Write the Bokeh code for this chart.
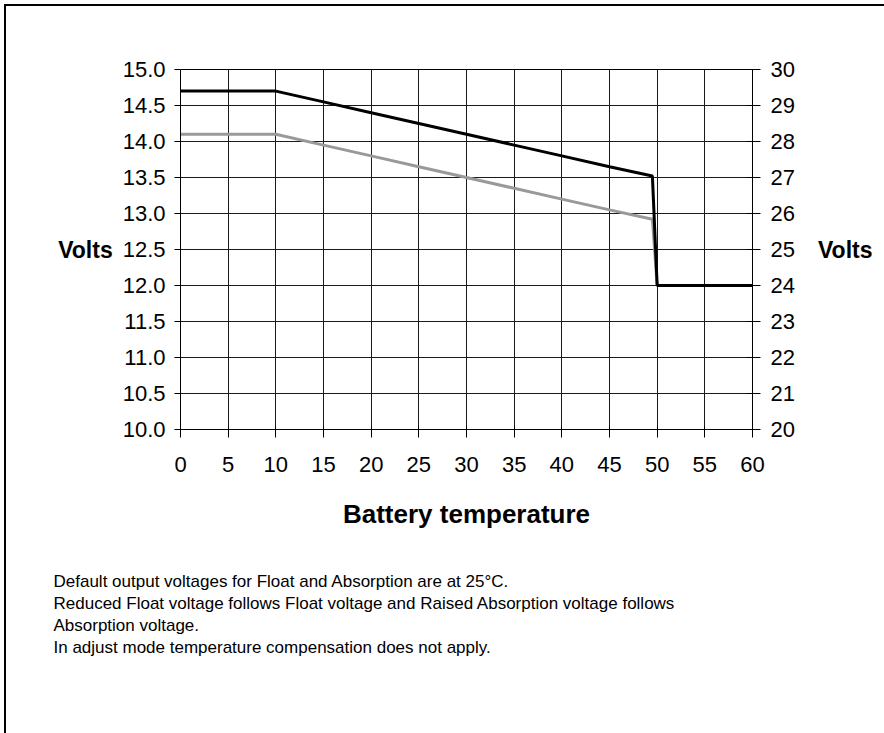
from bokeh.plotting import figure
from bokeh.models import (Range1d, LinearAxis, FixedTicker, PrintfTickFormatter,
                          Title)
from bokeh.embed import file_html
from bokeh.resources import INLINE

# ---- data ----
temp_absorption = [0, 10, 15, 20, 25, 30, 35, 40, 45, 49.5, 50, 60]
volts_absorption = [14.7, 14.7, 14.55, 14.4, 14.25, 14.1, 13.95, 13.8, 13.65, 13.52, 12.0, 12.0]
temp_float = [0, 10, 15, 20, 25, 30, 35, 40, 45, 49.5, 50, 60]
volts_float = [14.1, 14.1, 13.95, 13.8, 13.65, 13.5, 13.35, 13.2, 13.05, 12.92, 12.0, 12.0]

x_ticks = [0, 5, 10, 15, 20, 25, 30, 35, 40, 45, 50, 55, 60]
left_ticks = [10.0, 10.5, 11.0, 11.5, 12.0, 12.5, 13.0, 13.5, 14.0, 14.5, 15.0]
right_ticks = [20, 21, 22, 23, 24, 25, 26, 27, 28, 29, 30]

notes = [
    "Default output voltages for Float and Absorption are at 25\u00b0C.",
    "Reduced Float voltage follows Float voltage and Raised Absorption voltage follows",
    "Absorption voltage.",
    "In adjust mode temperature compensation does not apply.",
]

FONT = "Liberation Sans"

FRAME_L, FRAME_T, FRAME_R, FRAME_B = 180, 69, 752, 429
W, H = 884, 733

p = figure(width=W, height=H, output_backend="svg", toolbar_location=None,
           x_range=Range1d(0, 60), y_range=Range1d(10, 15),
           min_border_left=FRAME_L, min_border_right=W - FRAME_R,
           min_border_top=FRAME_T, min_border_bottom=H - FRAME_B)
p.title = None
p.background_fill_color = "white"
p.border_fill_color = None
p.outline_line_color = "black"
p.outline_line_width = 1
p.extra_y_ranges = {"right": Range1d(20, 30)}

# grid
p.xgrid.ticker = FixedTicker(ticks=x_ticks)
p.ygrid.ticker = FixedTicker(ticks=left_ticks)
for g in (p.xgrid, p.ygrid):
    g.grid_line_color = "#1a1a1a"
    g.grid_line_width = 1

# bottom axis
xa = p.xaxis[0]
xa.ticker = FixedTicker(ticks=x_ticks)
xa.axis_label = "Battery temperature"
xa.axis_label_text_font = FONT
xa.axis_label_text_font_size = "26px"
xa.axis_label_text_font_style = "bold"
xa.axis_label_text_color = "black"
xa.axis_label_standoff = 24
xa.major_label_text_font = FONT
xa.major_label_text_font_size = "22px"
xa.major_label_text_color = "black"
xa.major_label_standoff = 19
xa.major_tick_in = 3
xa.major_tick_out = 8
xa.minor_tick_out = 0
xa.minor_tick_in = 0
xa.axis_line_color = "black"
xa.major_tick_line_color = "black"

# left axis
ya = p.yaxis[0]
ya.ticker = FixedTicker(ticks=left_ticks)
ya.formatter = PrintfTickFormatter(format="%.1f")
ya.axis_label = "Volts"
ya.axis_label_orientation = "horizontal"
ya.axis_label_text_font = FONT
ya.axis_label_text_font_size = "23px"
ya.axis_label_text_font_style = "bold"
ya.axis_label_text_color = "black"
ya.axis_label_standoff = 7
ya.major_label_text_font = FONT
ya.major_label_text_font_size = "22px"
ya.major_label_text_color = "black"
ya.major_label_standoff = 9
ya.major_tick_in = 0
ya.major_tick_out = 6
ya.minor_tick_out = 0
ya.minor_tick_in = 0
ya.axis_line_color = "black"
ya.major_tick_line_color = "black"

# right axis
ra = LinearAxis(y_range_name="right", ticker=FixedTicker(ticks=right_ticks),
                formatter=PrintfTickFormatter(format="%d"))
ra.axis_label = "Volts"
ra.axis_label_orientation = "horizontal"
ra.axis_label_text_font = FONT
ra.axis_label_text_font_size = "23px"
ra.axis_label_text_font_style = "bold"
ra.axis_label_text_color = "black"
ra.axis_label_standoff = 20
ra.major_label_text_font = FONT
ra.major_label_text_font_size = "22px"
ra.major_label_text_color = "black"
ra.major_label_standoff = 10
ra.major_tick_in = 6
ra.major_tick_out = 8
ra.minor_tick_out = 0
ra.minor_tick_in = 0
ra.axis_line_color = "black"
ra.major_tick_line_color = "black"
p.add_layout(ra, "right")

# series
p.line(temp_float, volts_float, line_color="#999999", line_width=3)
p.line(temp_absorption, volts_absorption, line_color="black", line_width=3)

# notes below the chart
p.add_layout(Title(text="\n".join(notes), align="left", offset=-127,
                   standoff=78, text_font=FONT, text_font_size="17px",
                   text_font_style="normal", text_color="black",
                   text_line_height=1.16), "below")

# outer border of the whole picture (left and top edges)
p.styles = {"box-shadow": "inset 4px 4px 0 0 white, inset 6px 6px 0 0 black"}

open("out.html", "w").write(file_html(p, INLINE))
